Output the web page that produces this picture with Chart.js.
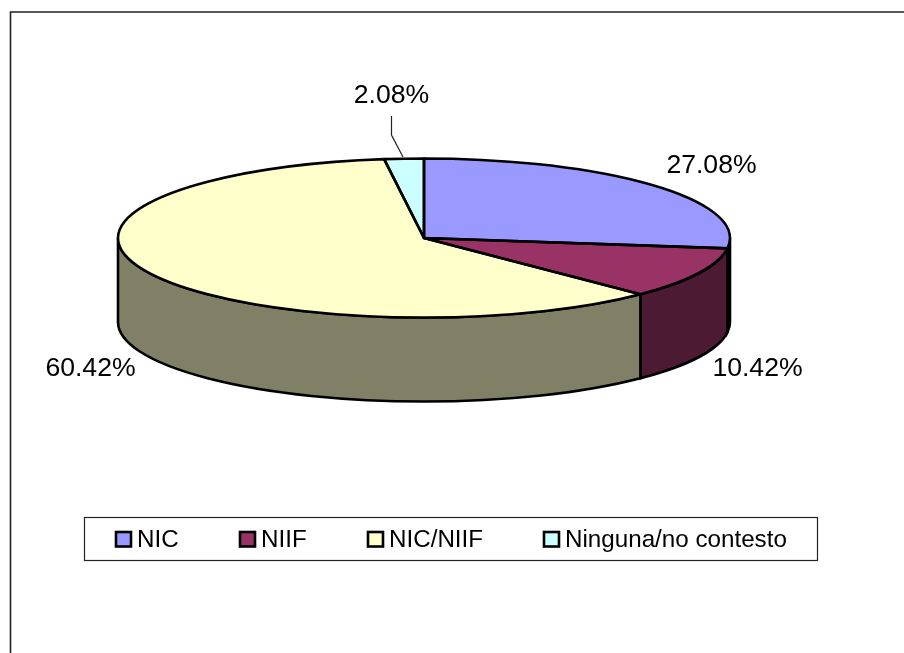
<!DOCTYPE html>
<html>
<head>
<meta charset="utf-8">
<style>
  html, body { margin: 0; padding: 0; background: #fff; overflow: hidden; }
  canvas { display: block; }
</style>
<script src="https://cdn.jsdelivr.net/npm/chart.js@4"></script>
</head>
<body>
<canvas id="piechart" width="904" height="653"></canvas>
<script>
const categories = ['NIC', 'NIIF', 'NIC/NIIF', 'Ninguna/no contesto'];
const percents = [27.08, 10.42, 60.42, 2.08];
const topColors = ['#9999FF', '#993366', '#FFFFCC', '#CCFFFF'];
const sideColors = ['#4D4D80', '#4D1A33', '#808066', '#668080'];

// where each percent text sits: centre x, baseline y
const labelCentres = [711.5, 757.5, 90.5, 391.5];
const labelBaselines = [173, 376, 376, 103];
// left edge of each legend swatch
const legendSwatchX = [115, 239, 367, 543];

const pieY = 238;
const tilt = 0.26;
const depth = 84;
const radius = 306;

function sectorOutline(ctx, a) {
    ctx.beginPath();
    ctx.moveTo(a.x, pieY);
    ctx.ellipse(a.x, pieY, radius, radius * tilt, 0, a.startAngle, a.endAngle);
    ctx.closePath();
    ctx.stroke();
}

// side wall of the slice, only the part facing the viewer (0..PI on the canvas)
function drawWall(ctx, a, color) {
    const twoPi = Math.PI * 2;
    let start = a.startAngle, end = a.endAngle;
    for (const shift of [0, twoPi]) {
        const s = Math.max(start, shift), e = Math.min(end, shift + Math.PI);
        if (e <= s) continue;
        ctx.beginPath();
        ctx.ellipse(a.x, pieY, radius, radius * tilt, 0, s, e);
        ctx.ellipse(a.x, pieY + depth, radius, radius * tilt, 0, e, s, true);
        ctx.closePath();
        ctx.fillStyle = color;
        ctx.fill();
        ctx.stroke();
    }
}

const pie3d = {
    id: 'pie3d',
    beforeDatasetsDraw(chart) {
        const ctx = chart.ctx;
        const arcs = chart.getDatasetMeta(0).data;
        ctx.save();
        ctx.strokeStyle = '#000';
        ctx.lineWidth = 2.6;
        arcs.forEach((a, i) => drawWall(ctx, a, sideColors[i]));
        ctx.restore();
        // squash the library's own arcs into the top ellipse
        ctx.save();
        ctx.translate(arcs[0].x, pieY);
        ctx.scale(1, tilt);
        ctx.translate(-arcs[0].x, -arcs[0].y);
    },
    afterDatasetsDraw(chart) {
        const ctx = chart.ctx;
        ctx.restore();
        ctx.save();
        ctx.strokeStyle = '#000';
        ctx.lineWidth = 2.6;
        ctx.lineJoin = 'round';
        chart.getDatasetMeta(0).data.forEach(a => sectorOutline(ctx, a));
        ctx.restore();
    },
    afterDraw(chart) {
        const ctx = chart.ctx;
        ctx.save();

        // outer frame, only top and left fall inside the picture
        ctx.strokeStyle = '#222';
        ctx.lineWidth = 1.6;
        ctx.beginPath();
        ctx.moveTo(10.5, 653);
        ctx.lineTo(10.5, 12);
        ctx.lineTo(904, 12);
        ctx.stroke();

        // percent labels
        ctx.fillStyle = '#000';
        ctx.font = '26.6px "Liberation Sans"';
        ctx.textAlign = 'center';
        ctx.textBaseline = 'alphabetic';
        percents.forEach((p, i) => {
            ctx.fillText(p.toFixed(2) + '%', labelCentres[i], labelBaselines[i]);
        });

        // leader line for the small slice
        ctx.strokeStyle = '#222';
        ctx.lineWidth = 1.2;
        ctx.beginPath();
        ctx.moveTo(391.5, 116);
        ctx.lineTo(391.5, 135);
        ctx.lineTo(403, 157);
        ctx.stroke();

        // legend box
        ctx.fillStyle = '#fff';
        ctx.strokeStyle = '#222';
        ctx.lineWidth = 1.2;
        ctx.fillRect(84.5, 517.5, 733, 43);
        ctx.strokeRect(84.5, 517.5, 733, 43);

        ctx.font = '24.2px "Liberation Sans"';
        ctx.textAlign = 'left';
        categories.forEach((c, i) => {
            const x = legendSwatchX[i];
            ctx.fillStyle = topColors[i];
            ctx.strokeStyle = '#000';
            ctx.lineWidth = 2.6;
            ctx.fillRect(x + 1, 532, 15, 14.5);
            ctx.strokeRect(x + 1, 532, 15, 14.5);
            ctx.fillStyle = '#000';
            ctx.fillText(c, x + 22, 547);
        });
        ctx.restore();
    }
};

new Chart(document.getElementById('piechart'), {
    type: 'pie',
    data: {
        labels: categories,
        datasets: [{
            data: percents,
            backgroundColor: topColors,
            borderWidth: 0,
            radius: radius,
            clip: false
        }]
    },
    options: {
        responsive: false,
        animation: false,
        layout: { padding: { right: 56 } },
        plugins: {
            legend: { display: false },
            tooltip: { enabled: false }
        }
    },
    plugins: [pie3d]
});
</script>
</body>
</html>
